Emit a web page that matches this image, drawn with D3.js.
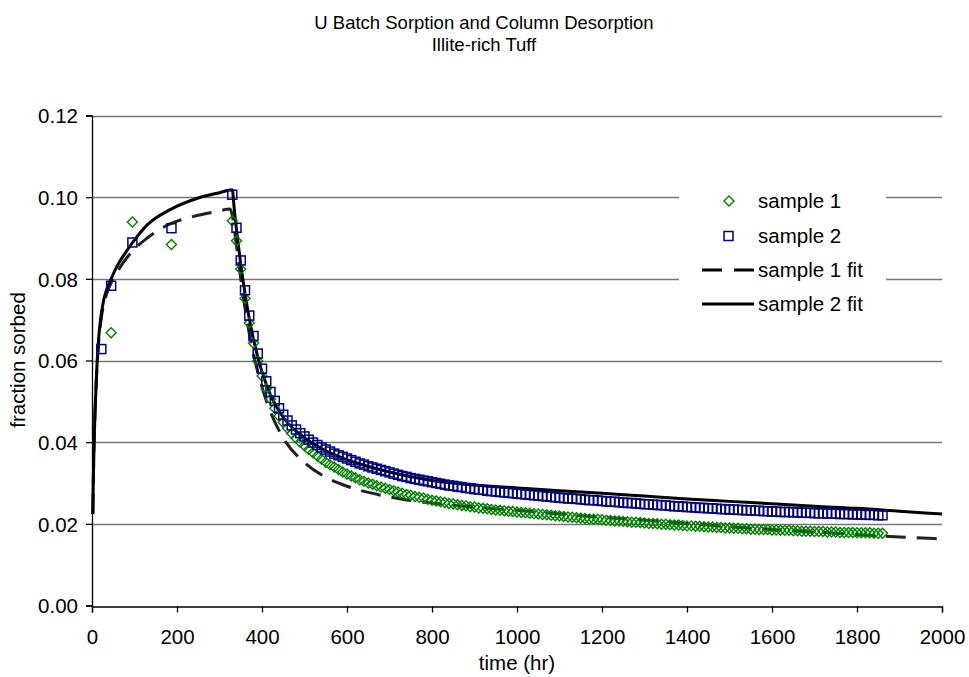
<!DOCTYPE html>
<html>
<head>
<meta charset="utf-8">
<script src="https://cdn.jsdelivr.net/npm/d3@7"></script>
<style>
  html, body { margin: 0; padding: 0; background: #fff; }
  svg { display: block; font-family: "Liberation Sans", Arial, sans-serif; }
</style>
</head>
<body>
<svg id="chart" width="969" height="677"></svg>
<script>
// ---- Batch sorption time points (hr) ----
const batchTimes1 = [45, 95, 187];
const batchTimes2 = [22, 45, 95, 187];
const batchFrac1 = [0.0668, 0.0939, 0.0884];
const batchFrac2 = [0.0628, 0.0783, 0.0889, 0.0924];

// ---- Column desorption time points (hr), shared by both samples ----
const desorbTimes = [
  330, 340, 350, 360, 370, 380, 390, 400, 410, 420, 430, 440, 450, 460, 470, 480, 490, 500,
  510, 520, 530, 540, 550, 560, 570, 580, 590, 600, 610, 620, 630, 640, 650, 660, 670, 680,
  690, 700, 710, 720, 730, 740, 750, 760, 770, 780, 790, 800, 810, 820, 830, 840, 850, 860,
  870, 880, 890, 900, 910, 920, 930, 940, 950, 960, 970, 980, 990, 1000, 1010, 1020, 1030,
  1040, 1050, 1060, 1070, 1080, 1090, 1100, 1110, 1120, 1130, 1140, 1150, 1160, 1170, 1180,
  1190, 1200, 1210, 1220, 1230, 1240, 1250, 1260, 1270, 1280, 1290, 1300, 1310, 1320, 1330,
  1340, 1350, 1360, 1370, 1380, 1390, 1400, 1410, 1420, 1430, 1440, 1450, 1460, 1470, 1480,
  1490, 1500, 1510, 1520, 1530, 1540, 1550, 1560, 1570, 1580, 1590, 1600, 1610, 1620, 1630,
  1640, 1650, 1660, 1670, 1680, 1690, 1700, 1710, 1720, 1730, 1740, 1750, 1760, 1770, 1780,
  1790, 1800, 1810, 1820, 1830, 1840, 1850, 1860
];

// fraction sorbed during desorption, sample 1
const desorbFrac1 = [
  0.0942, 0.0893, 0.0824, 0.0752, 0.0692, 0.0642, 0.0599, 0.0562, 0.0531, 0.0505, 0.0483, 0.0464,
  0.0448, 0.0434, 0.0421, 0.0410, 0.0400, 0.0391, 0.0382, 0.0374, 0.0366, 0.0358, 0.0351, 0.0345,
  0.0339, 0.0333, 0.0327, 0.0322, 0.0317, 0.0313, 0.0308, 0.0304, 0.0300, 0.0297, 0.0293, 0.0290,
  0.0287, 0.0284, 0.0281, 0.0278, 0.0275, 0.0272, 0.0270, 0.0267, 0.0265, 0.0263, 0.0260, 0.0258,
  0.0256, 0.0254, 0.0252, 0.0250, 0.0249, 0.0247, 0.0245, 0.0244, 0.0242, 0.0241, 0.0239, 0.0238,
  0.0237, 0.0235, 0.0234, 0.0233, 0.0232, 0.0231, 0.0230, 0.0229, 0.0228, 0.0227, 0.0226, 0.0225,
  0.0224, 0.0223, 0.0222, 0.0221, 0.0220, 0.0219, 0.0218, 0.0217, 0.0216, 0.0215, 0.0214, 0.0213,
  0.0212, 0.0211, 0.0211, 0.0210, 0.0209, 0.0208, 0.0207, 0.0207, 0.0206, 0.0205, 0.0204, 0.0204,
  0.0203, 0.0202, 0.0201, 0.0201, 0.0200, 0.0199, 0.0199, 0.0198, 0.0197, 0.0197, 0.0196, 0.0195,
  0.0195, 0.0194, 0.0194, 0.0193, 0.0192, 0.0192, 0.0191, 0.0191, 0.0190, 0.0190, 0.0189, 0.0189,
  0.0188, 0.0188, 0.0187, 0.0187, 0.0186, 0.0186, 0.0186, 0.0185, 0.0185, 0.0184, 0.0184, 0.0184,
  0.0183, 0.0183, 0.0182, 0.0182, 0.0182, 0.0181, 0.0181, 0.0181, 0.0180, 0.0180, 0.0180, 0.0179,
  0.0179, 0.0179, 0.0179, 0.0178, 0.0178, 0.0178, 0.0178, 0.0177, 0.0177, 0.0177
];

// fraction sorbed during desorption, sample 2
const desorbFrac2 = [
  0.1006, 0.0925, 0.0845, 0.0772, 0.0710, 0.0660, 0.0617, 0.0580, 0.0549, 0.0523, 0.0501, 0.0483,
  0.0467, 0.0453, 0.0441, 0.0431, 0.0422, 0.0414, 0.0406, 0.0399, 0.0393, 0.0387, 0.0382, 0.0377,
  0.0372, 0.0368, 0.0364, 0.0360, 0.0356, 0.0352, 0.0348, 0.0345, 0.0341, 0.0338, 0.0335, 0.0332,
  0.0329, 0.0326, 0.0323, 0.0320, 0.0317, 0.0315, 0.0312, 0.0310, 0.0308, 0.0306, 0.0304, 0.0302,
  0.0300, 0.0298, 0.0296, 0.0294, 0.0293, 0.0291, 0.0290, 0.0288, 0.0287, 0.0285, 0.0284, 0.0283,
  0.0281, 0.0280, 0.0279, 0.0278, 0.0277, 0.0276, 0.0275, 0.0274, 0.0273, 0.0272, 0.0271, 0.0270,
  0.0269, 0.0268, 0.0267, 0.0266, 0.0265, 0.0264, 0.0263, 0.0262, 0.0262, 0.0261, 0.0260, 0.0259,
  0.0258, 0.0258, 0.0257, 0.0256, 0.0255, 0.0254, 0.0254, 0.0253, 0.0252, 0.0251, 0.0251, 0.0250,
  0.0249, 0.0248, 0.0248, 0.0247, 0.0246, 0.0246, 0.0245, 0.0244, 0.0243, 0.0243, 0.0242, 0.0241,
  0.0241, 0.0240, 0.0239, 0.0239, 0.0238, 0.0238, 0.0237, 0.0236, 0.0236, 0.0235, 0.0235, 0.0234,
  0.0234, 0.0233, 0.0233, 0.0232, 0.0232, 0.0231, 0.0231, 0.0230, 0.0230, 0.0229, 0.0229, 0.0229,
  0.0228, 0.0228, 0.0227, 0.0227, 0.0227, 0.0226, 0.0226, 0.0226, 0.0225, 0.0225, 0.0225, 0.0224,
  0.0224, 0.0224, 0.0223, 0.0223, 0.0223, 0.0222, 0.0222, 0.0222, 0.0221, 0.0221
];

// ---- Model fits ----
const fitTimes1 = [2, 3, 5, 7, 10, 13, 17, 22, 28, 35, 45, 60, 75, 95, 130, 185, 240, 290, 325,
  330, 340, 350, 360, 370, 380, 400, 420, 450, 500, 550, 600, 650, 700, 750, 800, 900, 1000,
  1100, 1200, 1300, 1400, 1500, 1600, 1700, 1800, 1900, 2000];
const fitFrac1 = [0.0224, 0.030, 0.040, 0.047, 0.0545, 0.0605, 0.066, 0.0705, 0.0740, 0.0765,
  0.0790, 0.0818, 0.0842, 0.0868, 0.0900, 0.0935, 0.0953, 0.0964, 0.0971,
  0.0955, 0.0880, 0.0800, 0.0728, 0.0666, 0.0615, 0.0535, 0.0474, 0.0410, 0.0350, 0.0314,
  0.0292, 0.0277, 0.0266, 0.0257, 0.0251, 0.0241, 0.0233, 0.0224, 0.0216, 0.0209, 0.0201,
  0.0193, 0.0186, 0.0180, 0.0174, 0.0168, 0.0163];

const fitTimes2 = [2, 3, 5, 7, 10, 13, 17, 22, 28, 35, 45, 60, 75, 95, 130, 185, 250, 300, 330,
  335, 340, 345, 350, 360, 370, 380, 400, 420, 450, 500, 550, 600, 700, 800, 900, 1000, 1100,
  1200, 1300, 1400, 1500, 1600, 1700, 1800, 1900, 2000];
const fitFrac2 = [0.0224, 0.030, 0.040, 0.047, 0.055, 0.0615, 0.067, 0.0715, 0.075, 0.0775,
  0.080, 0.0833, 0.0858, 0.0888, 0.0932, 0.0970, 0.0998, 0.1011, 0.1018,
  0.0968, 0.0920, 0.0877, 0.0836, 0.0764, 0.0703, 0.0652, 0.0572, 0.0516, 0.0461, 0.0411,
  0.0379, 0.0357, 0.0327, 0.0306, 0.0295, 0.0288, 0.0281, 0.0275, 0.0268, 0.0261, 0.0255,
  0.0249, 0.0243, 0.0238, 0.0231, 0.0224];

// ---- Axis ticks ----
const xTicks = [0, 200, 400, 600, 800, 1000, 1200, 1400, 1600, 1800, 2000];
const yTicks = [0, 0.02, 0.04, 0.06, 0.08, 0.10, 0.12];

const titleLines = ["U Batch Sorption and Column Desorption", "Illite-rich Tuff"];
const legendLabels = ["sample 1", "sample 2", "sample 1 fit", "sample 2 fit"];

// ---------------------------------------------------------------
const svg = d3.select("#chart");
const plot = { left: 92, right: 942, top: 115.5, bottom: 605.5 };

const x = d3.scaleLinear().domain([0, 2000]).range([plot.left, plot.right]);
const y = d3.scaleLinear().domain([0, 0.12]).range([plot.bottom, plot.top]);

const FONT = 20.5;
const TITLE_FONT = 18.5;
const GREEN = "#008000";
const NAVY = "#000080";

// Title
svg.append("g").selectAll("text").data(titleLines).join("text")
  .attr("x", 484).attr("y", (d, i) => 29 + i * 22)
  .attr("text-anchor", "middle").attr("font-size", TITLE_FONT).attr("fill", "#000")
  .text(d => d);

// Horizontal gridlines
svg.append("g").selectAll("line").data(yTicks.filter(d => d > 0)).join("line")
  .attr("x1", plot.left).attr("x2", plot.right)
  .attr("y1", d => Math.round(y(d)) + 0.5).attr("y2", d => Math.round(y(d)) + 0.5)
  .attr("stroke", "#777").attr("stroke-width", 1.6);

// Axes
const xAxis = svg.append("g")
  .attr("transform", `translate(0,${Math.round(plot.bottom) + 0.5})`)
  .call(d3.axisBottom(x).tickValues(xTicks).tickSize(6).tickPadding(17).tickFormat(d3.format("d")));
const yAxis = svg.append("g")
  .attr("transform", `translate(${plot.left},0)`)
  .call(d3.axisLeft(y).tickValues(yTicks).tickSize(6).tickPadding(8).tickFormat(d3.format(".2f")));

[xAxis, yAxis].forEach(g => {
  g.select(".domain").attr("stroke", "#000").attr("stroke-width", 1.3);
  g.selectAll(".tick line").attr("stroke", "#000").attr("stroke-width", 1.3);
  g.selectAll(".tick text").attr("font-size", FONT).attr("fill", "#000")
    .attr("font-family", "'Liberation Sans', Arial, sans-serif");
});
yAxis.selectAll(".tick text").attr("dy", "0.35em");

// Axis titles
svg.append("text").attr("x", 517).attr("y", 670)
  .attr("text-anchor", "middle").attr("font-size", FONT).text("time (hr)");
svg.append("text")
  .attr("transform", "translate(25,360) rotate(-90)")
  .attr("text-anchor", "middle").attr("font-size", FONT).text("fraction sorbed");

// Fit lines
const line = d3.line().x(d => x(d[0])).y(d => y(d[1])).curve(d3.curveMonotoneX);
const fit1 = d3.zip(fitTimes1, fitFrac1);
const fit2 = d3.zip(fitTimes2, fitFrac2);

svg.append("path").datum(fit1).attr("d", line)
  .attr("fill", "none").attr("stroke", "#222").attr("stroke-width", 3)
  .attr("stroke-dasharray", "20,11");
svg.append("path").datum(fit2).attr("d", line)
  .attr("fill", "none").attr("stroke", "#000").attr("stroke-width", 3);

// Data markers
const s1 = d3.zip(batchTimes1.concat(desorbTimes), batchFrac1.concat(desorbFrac1));
const s2 = d3.zip(batchTimes2.concat(desorbTimes), batchFrac2.concat(desorbFrac2));

const diamond = "M0,-5L5,0L0,5L-5,0Z";
svg.append("g").selectAll("path").data(s1).join("path")
  .attr("transform", d => `translate(${x(d[0])},${y(d[1])})`)
  .attr("d", diamond).attr("fill", "none").attr("stroke", GREEN).attr("stroke-width", 1.4);

svg.append("g").selectAll("rect").data(s2).join("rect")
  .attr("x", d => x(d[0]) - 4.5).attr("y", d => y(d[1]) - 4.5)
  .attr("width", 9).attr("height", 9)
  .attr("fill", "none").attr("stroke", NAVY).attr("stroke-width", 1.5);

// Legend
const lg = svg.append("g");
lg.append("rect").attr("x", 679).attr("y", 184).attr("width", 207).attr("height", 137).attr("fill", "#fff");
const rowY = [201, 236, 270, 304];
lg.selectAll("text").data(legendLabels).join("text")
  .attr("x", 758).attr("y", (d, i) => rowY[i]).attr("dy", "0.35em")
  .attr("font-size", FONT).text(d => d);
lg.append("path").attr("transform", `translate(729,${rowY[0]})`).attr("d", diamond)
  .attr("fill", "none").attr("stroke", GREEN).attr("stroke-width", 1.4);
lg.append("rect").attr("x", 724).attr("y", rowY[1] - 4.5).attr("width", 9).attr("height", 9)
  .attr("fill", "none").attr("stroke", NAVY).attr("stroke-width", 1.5);
lg.append("line").attr("x1", 702).attr("x2", 754).attr("y1", rowY[2]).attr("y2", rowY[2])
  .attr("stroke", "#000").attr("stroke-width", 3).attr("stroke-dasharray", "20,12");
lg.append("line").attr("x1", 702).attr("x2", 754).attr("y1", rowY[3]).attr("y2", rowY[3])
  .attr("stroke", "#000").attr("stroke-width", 3);
</script>
</body>
</html>
